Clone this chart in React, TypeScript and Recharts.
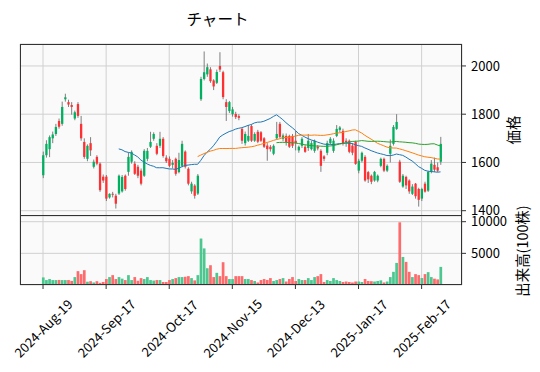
import React from 'react';
import { ComposedChart, Bar, Line, XAxis, YAxis, CartesianGrid } from 'recharts';

// ---- data (index = trading day, 0 = 2024-08-19) ----
const opens = [
  1547, 1630, 1655, 1700, 1718, 1772, 1760, 1862, 1850, 1838,
  1782, 1842, 1760, 1685, 1615, 1680, 1582, 1623, 1595, 1541,
  1541, 1455, 1470, 1462, 1471, 1480, 1545, 1561, 1603, 1595,
  1582, 1566, 1545, 1615, 1665, 1698, 1669, 1669, 1698, 1620,
  1615, 1590, 1615, 1560, 1586, 1645, 1574, 1480, 1504, 1471,
  1862, 1946, 1965, 1986, 1940, 1930, 2000, 1974, 1850, 1813,
  1800, 1801, 1792, 1739, 1680, 1690, 1751, 1690, 1727, 1725,
  1700, 1670, 1665, 1636, 1700, 1760, 1698, 1710, 1710, 1710,
  1690, 1650, 1669, 1665, 1660, 1655, 1648, 1665, 1648, 1625,
  1640, 1680, 1648, 1710, 1735, 1731, 1690, 1690, 1670, 1685,
  1566, 1607, 1623, 1560, 1545, 1525, 1525, 1586, 1615, 1566,
  1636, 1677, 1739, 1603, 1500, 1540, 1525, 1470, 1512, 1490,
  1450, 1512, 1483, 1561, 1590, 1580, 1603,
];
const highs = [
  1645, 1692, 1712, 1728, 1760, 1782, 1852, 1885, 1860, 1850,
  1815, 1850, 1793, 1700, 1675, 1705, 1612, 1630, 1600, 1550,
  1548, 1472, 1478, 1470, 1550, 1548, 1550, 1640, 1650, 1605,
  1590, 1575, 1655, 1660, 1727, 1725, 1680, 1727, 1705, 1630,
  1625, 1610, 1620, 1640, 1690, 1650, 1580, 1520, 1510, 1552,
  1955, 2060, 2010, 1995, 1945, 1985, 2057, 1980, 1862, 1855,
  1830, 1810, 1800, 1745, 1728, 1755, 1758, 1725, 1735, 1730,
  1705, 1680, 1672, 1675, 1768, 1768, 1720, 1720, 1715, 1718,
  1730, 1670, 1705, 1672, 1718, 1690, 1695, 1672, 1655, 1630,
  1690, 1705, 1700, 1755, 1751, 1740, 1700, 1695, 1680, 1690,
  1615, 1645, 1630, 1565, 1550, 1565, 1550, 1620, 1620, 1592,
  1695, 1755, 1800, 1611, 1552, 1545, 1530, 1510, 1515, 1495,
  1495, 1520, 1565, 1610, 1620, 1600, 1706,
];
const lows = [
  1535, 1620, 1622, 1680, 1710, 1740, 1752, 1852, 1830, 1798,
  1775, 1785, 1690, 1615, 1605, 1627, 1575, 1588, 1478, 1515,
  1440, 1450, 1455, 1409, 1465, 1475, 1483, 1545, 1595, 1548,
  1535, 1505, 1540, 1605, 1660, 1690, 1630, 1660, 1620, 1598,
  1580, 1575, 1545, 1555, 1580, 1575, 1505, 1470, 1450, 1465,
  1855, 1940, 1955, 1930, 1900, 1925, 1975, 1862, 1772, 1805,
  1790, 1780, 1775, 1677, 1670, 1685, 1685, 1685, 1680, 1685,
  1660, 1607, 1645, 1630, 1695, 1700, 1688, 1670, 1660, 1660,
  1650, 1640, 1660, 1640, 1648, 1650, 1640, 1650, 1561, 1605,
  1630, 1675, 1640, 1705, 1725, 1670, 1665, 1638, 1630, 1590,
  1555, 1600, 1520, 1515, 1510, 1520, 1518, 1580, 1560, 1560,
  1600, 1670, 1735, 1515, 1495, 1490, 1470, 1465, 1450, 1417,
  1440, 1475, 1478, 1555, 1560, 1560, 1590,
];
const closes = [
  1630, 1677, 1705, 1716, 1747, 1748, 1830, 1870, 1840, 1830,
  1808, 1793, 1700, 1623, 1669, 1650, 1603, 1595, 1485, 1525,
  1450, 1470, 1466, 1429, 1545, 1540, 1490, 1623, 1644, 1553,
  1545, 1512, 1648, 1648, 1685, 1718, 1636, 1698, 1627, 1605,
  1586, 1598, 1553, 1610, 1677, 1582, 1512, 1512, 1462, 1545,
  1946, 1974, 1995, 1937, 1915, 1975, 1985, 1871, 1830, 1850,
  1820, 1788, 1785, 1690, 1718, 1710, 1690, 1718, 1686, 1690,
  1665, 1655, 1655, 1669, 1718, 1706, 1712, 1685, 1665, 1669,
  1680, 1665, 1698, 1644, 1690, 1680, 1690, 1658, 1586, 1615,
  1680, 1698, 1690, 1739, 1745, 1677, 1685, 1644, 1640, 1594,
  1607, 1640, 1525, 1530, 1520, 1561, 1545, 1615, 1566, 1586,
  1669, 1747, 1768, 1520, 1545, 1505, 1480, 1500, 1460, 1445,
  1490, 1479, 1561, 1595, 1570, 1566, 1677,
];
const volumes = [
  1200, 780, 940, 780, 780, 800, 780, 780, 780, 650,
  1250, 2190, 1720, 2340, 520, 600, 400, 600, 340, 470,
  940, 1250, 1560, 940, 1250, 1000, 780, 1560, 780, 1250,
  670, 1090, 940, 1250, 780, 700, 780, 780, 470, 470,
  780, 940, 1090, 1250, 1250, 1300, 1400, 1090, 730, 1560,
  7340, 5780, 2650, 3125, 1250, 1920, 1400, 3600, 1400, 940,
  940, 1400, 1400, 1400, 940, 940, 780, 630, 400, 780,
  940, 800, 1090, 630, 780, 940, 1090, 550, 940, 1250,
  630, 940, 780, 780, 1090, 780, 1250, 1400, 1720, 470,
  780, 630, 1090, 780, 630, 470, 550, 470, 400, 550,
  550, 470, 940, 630, 600, 550, 630, 730, 400, 550,
  1250, 2080, 3490, 9900, 4430, 3650, 2080, 1250, 1720, 1560,
  1100, 1720, 2030, 1250, 1000, 885, 2860,
];
const tickIndex = [0, 20, 40, 60, 80, 100, 120];
const tickLabels = ['2024-Aug-19', '2024-Sep-17', '2024-Oct-17', '2024-Nov-15', '2024-Dec-13', '2025-Jan-17', '2025-Feb-17'];
const priceTicks = [1400, 1600, 1800, 2000];
const volumeTicks = [5000, 10000];
const mavWindows = [25, 50, 75];

const UP = '#00b060';
const DOWN = '#fe3032';
const VUP = '#4dc790';
const VDOWN = '#fd6b6c';
const WICK = '#606060';
const MAV_COLORS = ['#1f77b4', '#ff7f0e', '#2ca02c'];
const FONT = '"Noto Sans CJK JP", "Noto Sans", sans-serif';
const TICK_FONT = 13;

const sma = (n: number) =>
  closes.map((_, i) => (i < n - 1 ? null : closes.slice(i - n + 1, i + 1).reduce((a, b) => a + b, 0) / n));
const mavs = mavWindows.map(sma);

const data = closes.map((c, i) => ({
  i,
  o: opens[i],
  h: highs[i],
  l: lows[i],
  c,
  hl: [lows[i], highs[i]],
  v: volumes[i],
  m0: mavs[0][i],
  m1: mavs[1][i],
  m2: mavs[2][i],
}));

const X_DOMAIN: [number, number] = [-7.3, 132.8];

const Candle = (props: any) => {
  const { x, y, width, height, payload } = props;
  if (x == null || !payload) return null;
  const { o, h, l, c } = payload;
  const cx = x + width / 2;
  const k = h === l ? 0 : height / (h - l);
  const yO = y + (h - o) * k;
  const yC = y + (h - c) * k;
  const up = c >= o;
  const bw = 2.3;
  const top = Math.min(yO, yC);
  const bh = Math.max(Math.abs(yC - yO), 0.8);
  return (
    <g>
      <line x1={cx} x2={cx} y1={y} y2={y + height} stroke={WICK} strokeWidth={0.8} />
      <rect x={cx - bw / 2} y={top} width={bw} height={bh} fill={up ? UP : DOWN} />
    </g>
  );
};

const VolBar = (props: any) => {
  const { x, y, width, height, payload } = props;
  if (x == null || !payload) return null;
  const cx = x + width / 2;
  const bw = 2.7;
  return <rect x={cx - bw / 2} y={y} width={bw} height={Math.max(height, 0)} fill={payload.c >= payload.o ? VUP : VDOWN} />;
};

const DateTick = (props: any) => {
  const { x, y, payload } = props;
  const idx = tickIndex.indexOf(payload.value);
  const label = idx >= 0 ? tickLabels[idx] : '';
  const cy = y + 35;
  return (
    <text
      x={x}
      y={cy}
      textAnchor="middle"
      dominantBaseline="central"
      transform={`rotate(-45 ${x} ${cy})`}
      fontSize={TICK_FONT}
      fontFamily={FONT}
      fill="#000"
    >
      {label}
    </text>
  );
};

const yTick = { fill: '#000', fontSize: TICK_FONT, fontFamily: FONT };

export default function App() {
  return (
    <div style={{ position: 'absolute', left: 0, top: 0, width: 540, height: 372, background: '#fff', fontFamily: FONT }}>
      <div style={{ position: 'absolute', left: 0, width: 435, top: 7, textAlign: 'center', fontSize: 15.6, color: '#000' }}>
        チャート
      </div>
      <div style={{ position: 'absolute', left: 0, top: 0 }}>
        <ComposedChart width={540} height={232} data={data} margin={{ top: 44, right: 0, bottom: 16, left: 20 }}>
          <CartesianGrid stroke="#d0d0d0" fill="#fafafa" />
          <XAxis dataKey="i" type="number" domain={X_DOMAIN} ticks={tickIndex} allowDataOverflow hide />
          <YAxis
            orientation="right"
            domain={[1378, 2091]}
            ticks={priceTicks}
            interval={0}
            allowDataOverflow
            width={78}
            tickSize={4}
            tickMargin={5}
            axisLine={false}
            tick={yTick}
            tickLine={{ stroke: '#333' }}
          />
          <Bar dataKey="hl" shape={Candle} isAnimationActive={false} />
          {mavWindows.map((w, k) => (
            <Line
              key={w}
              dataKey={`m${k}`}
              type="linear"
              dot={false}
              stroke={MAV_COLORS[k]}
              strokeWidth={1}
              isAnimationActive={false}
            />
          ))}
        </ComposedChart>
      </div>
      <div style={{ position: 'absolute', left: 0, top: 200 }}>
        <ComposedChart width={540} height={172} data={data} margin={{ top: 16, right: 0, bottom: 0, left: 20 }}>
          <CartesianGrid stroke="#d0d0d0" fill="#fafafa" />
          <XAxis
            dataKey="i"
            type="number"
            domain={X_DOMAIN}
            ticks={tickIndex}
            allowDataOverflow
            height={87}
            tickSize={4}
            tickMargin={4}
            axisLine={false}
            tickLine={{ stroke: '#333' }}
            tick={DateTick}
            interval={0}
          />
          <YAxis
            orientation="right"
            domain={[0, 10900]}
            ticks={volumeTicks}
            interval={0}
            allowDataOverflow
            width={78}
            tickSize={4}
            tickMargin={5}
            axisLine={false}
            tick={yTick}
            tickLine={{ stroke: '#333' }}
          />
          <Bar dataKey="v" shape={VolBar} isAnimationActive={false} />
        </ComposedChart>
      </div>
      <div style={{ position: 'absolute', left: 20, top: 44, width: 442, height: 172, border: '1px solid #333', boxSizing: 'border-box', pointerEvents: 'none' }} />
      <div style={{ position: 'absolute', left: 20, top: 215, width: 442, height: 70, border: '1px solid #333', boxSizing: 'border-box', pointerEvents: 'none' }} />
      <div
        style={{
          position: 'absolute',
          left: 512,
          top: 130,
          transform: 'translate(-50%, -50%) rotate(-90deg)',
          fontSize: 14.4,
          whiteSpace: 'nowrap',
          color: '#000',
        }}
      >
        価格
      </div>
      <div
        style={{
          position: 'absolute',
          left: 521,
          top: 251,
          transform: 'translate(-50%, -50%) rotate(-90deg)',
          fontSize: 14.4,
          whiteSpace: 'nowrap',
          color: '#000',
        }}
      >
        出来高(100株)
      </div>
    </div>
  );
}
